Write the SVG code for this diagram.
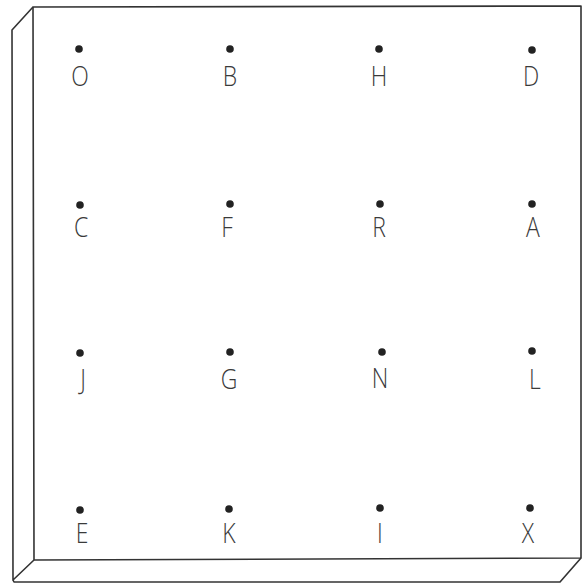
<svg xmlns="http://www.w3.org/2000/svg" width="582" height="584" viewBox="0 0 582 584">
<style>
.edge{fill:none;stroke:#333;stroke-width:1.6;stroke-linejoin:round}
.dot{fill:#222}
.lbl{font-family:"Open Sans","Liberation Sans",sans-serif;font-weight:300;font-size:28px;fill:#3a3a3a;text-anchor:middle}
</style>
<rect width="582" height="584" fill="#fff"/>
<g id="board">
<path class="edge" d="M33,7 L581,6 L581,558 L34,560 Z"/>
<path class="edge" d="M33,7 L12,30 L13,580 L34,560"/>
<path class="edge" d="M13,580 L14,582 L560,582 L581,558"/>
</g>
<g id="connectors"></g>
<g id="nO"><circle class="dot" cx="79" cy="49" r="3.8"/><text class="lbl" transform="translate(80,86) scale(0.82,1)">O</text></g>
<g id="nB"><circle class="dot" cx="230" cy="49" r="3.8"/><text class="lbl" transform="translate(230,86) scale(0.82,1)">B</text></g>
<g id="nH"><circle class="dot" cx="379" cy="49" r="3.8"/><text class="lbl" transform="translate(379,86) scale(0.82,1)">H</text></g>
<g id="nD"><circle class="dot" cx="532" cy="50" r="3.8"/><text class="lbl" transform="translate(531,86) scale(0.82,1)">D</text></g>
<g id="nC"><circle class="dot" cx="80" cy="205" r="3.8"/><text class="lbl" transform="translate(81,237) scale(0.82,1)">C</text></g>
<g id="nF"><circle class="dot" cx="230" cy="204" r="3.8"/><text class="lbl" transform="translate(227,237) scale(0.82,1)">F</text></g>
<g id="nR"><circle class="dot" cx="380" cy="204" r="3.8"/><text class="lbl" transform="translate(379,237) scale(0.82,1)">R</text></g>
<g id="nA"><circle class="dot" cx="532" cy="204" r="3.8"/><text class="lbl" transform="translate(533,237) scale(0.82,1)">A</text></g>
<g id="nJ"><circle class="dot" cx="80" cy="353" r="3.8"/><text class="lbl" transform="translate(83,389) scale(0.82,1)">J</text></g>
<g id="nG"><circle class="dot" cx="230" cy="352" r="3.8"/><text class="lbl" transform="translate(229,389) scale(0.82,1)">G</text></g>
<g id="nN"><circle class="dot" cx="382" cy="352" r="3.8"/><text class="lbl" transform="translate(380,388) scale(0.82,1)">N</text></g>
<g id="nL"><circle class="dot" cx="532" cy="351" r="3.8"/><text class="lbl" transform="translate(535,389) scale(0.82,1)">L</text></g>
<g id="nE"><circle class="dot" cx="80" cy="510" r="3.8"/><text class="lbl" transform="translate(82,543) scale(0.82,1)">E</text></g>
<g id="nK"><circle class="dot" cx="229" cy="509" r="3.8"/><text class="lbl" transform="translate(229,543) scale(0.82,1)">K</text></g>
<g id="nI"><circle class="dot" cx="380" cy="508" r="3.8"/><text class="lbl" transform="translate(380,543) scale(0.82,1)">I</text></g>
<g id="nX"><circle class="dot" cx="530" cy="508" r="3.8"/><text class="lbl" transform="translate(528,543) scale(0.82,1)">X</text></g>
</svg>
